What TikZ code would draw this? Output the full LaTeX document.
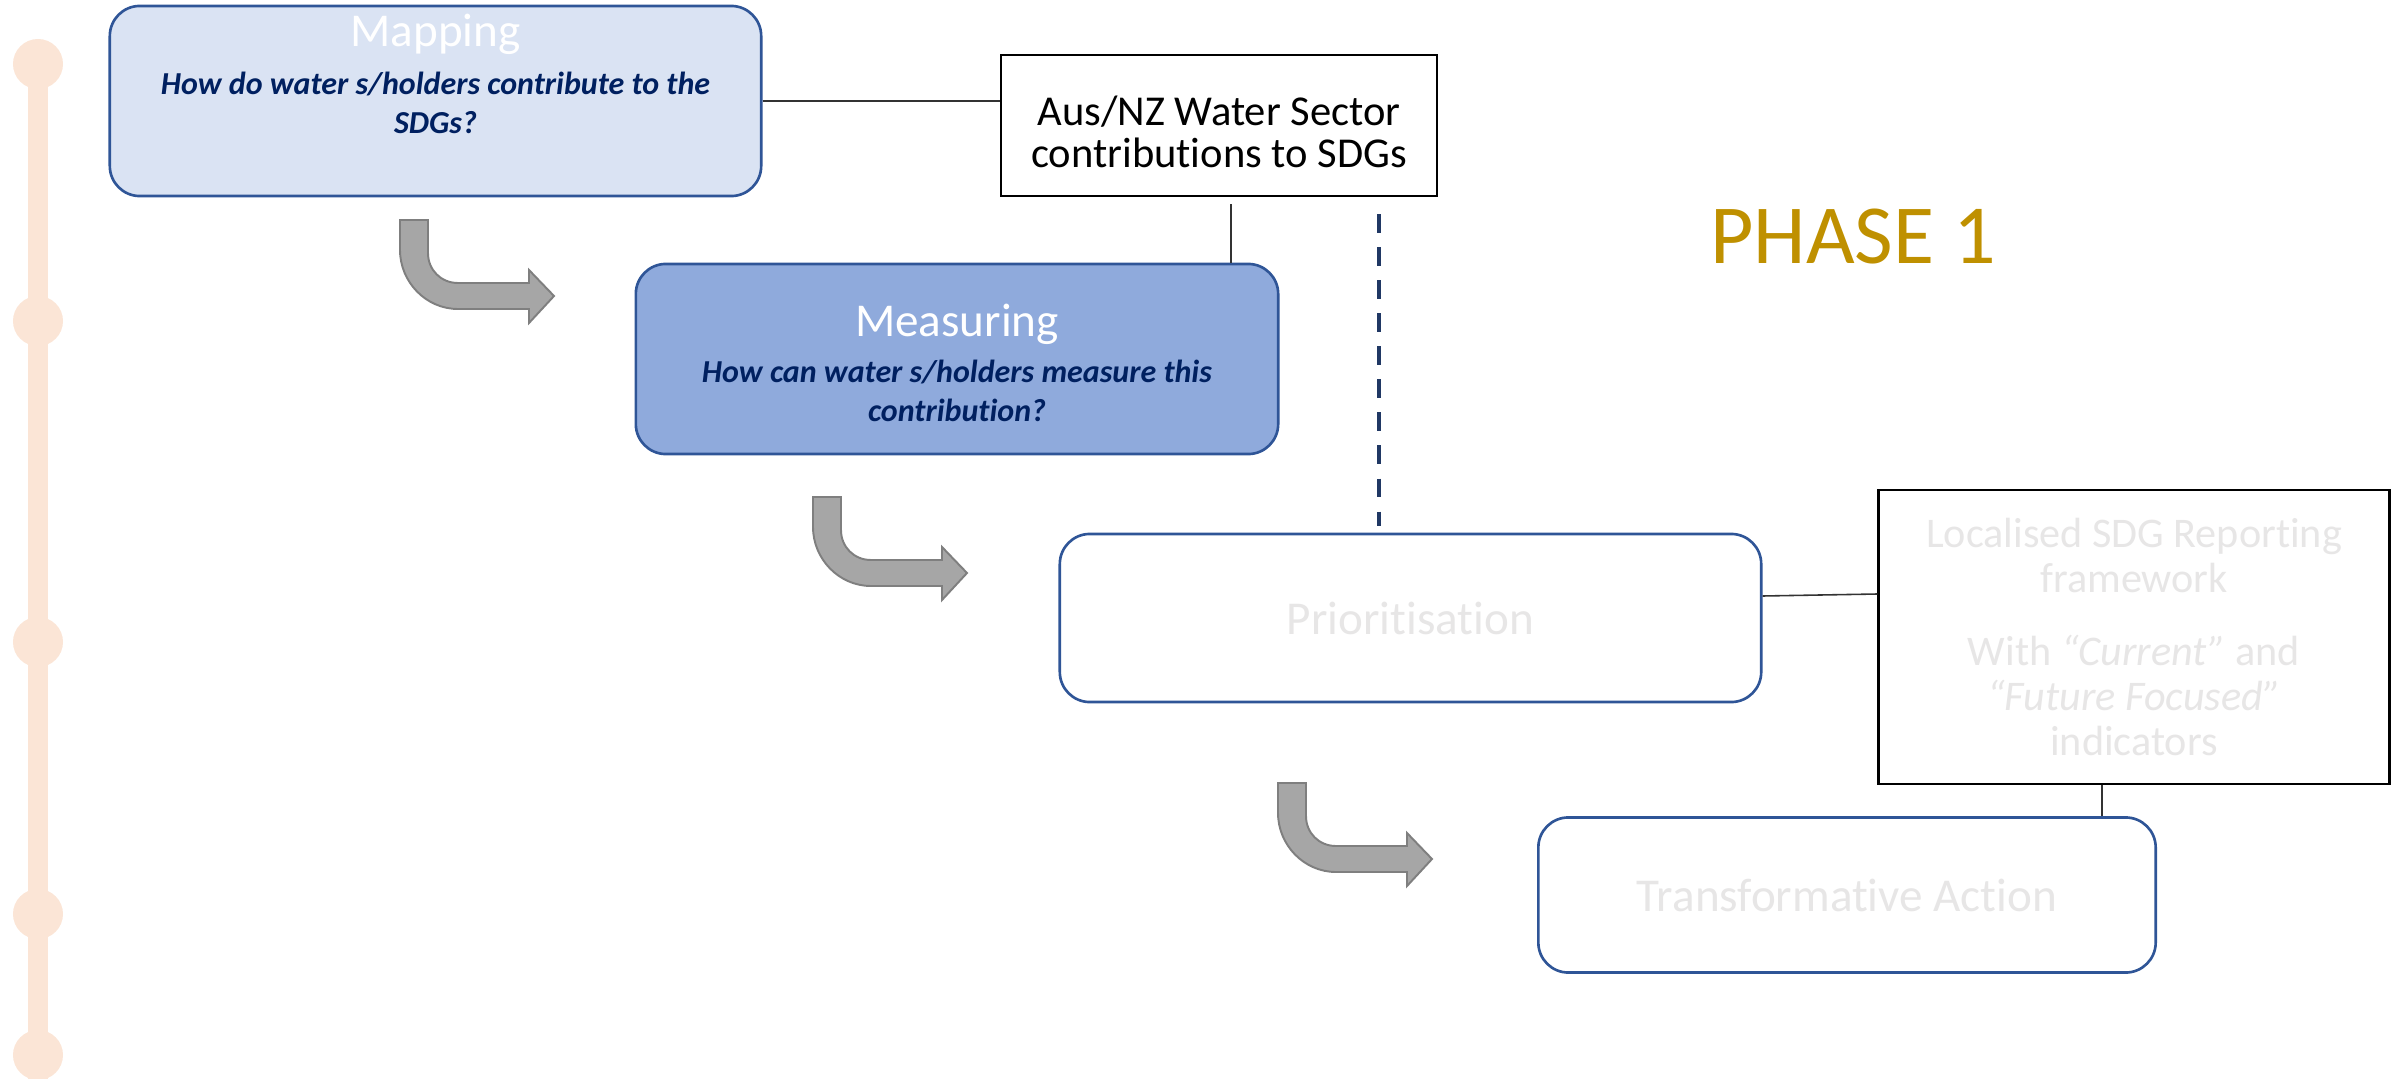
\documentclass[tikz,border=0pt]{standalone}
\usepackage{fontspec}
\setmainfont[Ligatures={TeX,NoCommon}]{Carlito}
\usepackage{tikz}
\usetikzlibrary{calc}
\definecolor{mapFill}  {RGB}{218,227,243}
\definecolor{measFill} {RGB}{143,170,220}
\definecolor{boxBlue}  {RGB}{ 47, 85,151}
\definecolor{navyTxt}  {RGB}{  0, 32, 96}
\definecolor{fadeTxt}  {RGB}{231,230,230}
\definecolor{phaseGold}{RGB}{191,144,  0}
\definecolor{peach}    {RGB}{251,229,214}
\definecolor{arrowGrey}{RGB}{166,166,166}
\definecolor{arrowEdge}{RGB}{127,127,127}
\definecolor{dashNavy} {RGB}{ 32, 56,100}

\begin{document}
\begin{tikzpicture}[x=0.01cm,y=-0.01cm,
          stagebox/.style={draw=boxBlue,line width=0.75pt,rounded corners=0.3cm,
                           inner sep=0pt},
          outbox/.style={draw=black,fill=white,line width=0.6pt,inner sep=0pt,
                         align=center},
          headtxt/.style={text=white,font=\fontsize{13.4}{16}\selectfont},
          asktxt/.style={text=navyTxt,align=center,
                         font=\fontsize{9.1}{10.9}\selectfont\bfseries\itshape},
          fadetxt/.style={text=fadeTxt,font=\fontsize{13.4}{16}\selectfont},
          link/.style={black!80,line width=0.45pt},
          dot/.style={circle,fill=peach,minimum size=0.5cm,inner sep=0pt},
          bendarrow/.pic={\draw[fill=arrowGrey,draw=arrowEdge,line width=0.55pt]
            (0,0)--(28,0)--(28,33) .. controls (28,50) and (41,63) .. (58,63)
            --(129,63)--(129,50)--(154,76)--(129,103)--(129,89)--(58,89)
            .. controls (26,89) and (0,62) .. (0,30)--cycle;},
        ]
        \useasboundingbox (0,0) rectangle (2397,1079);

        % timeline
        \foreach \y [count=\i] in {64,321,642,914,1055}
          \node[dot](d\i) at (38,\y){};
        \coordinate (base) at (38,1079);
        \draw[peach,line width=5.7pt](d1.center)--(base);

        % stages
        \node[stagebox,fill=mapFill,minimum width=6.51cm,minimum height=1.9cm]
          (map) at (435.5,101){};
        \node[headtxt] (mapT) at (435.5,34){Mapping};
        \node[asktxt]  (mapQ) at (435.5,103)
          {How do water s/holders contribute to the\\SDGs?};

        \node[stagebox,fill=measFill,minimum width=6.42cm,minimum height=1.9cm]
          (meas) at (957,359){};
        \node[headtxt] (measT) at (957,324){Measuring};
        \node[asktxt]  (measQ) at (957,391)
          {How can water s/holders measure this\\contribution?};

        \node[stagebox,fill=white,minimum width=7.01cm,minimum height=1.68cm,fadetxt]
          (prio) at (1410.5,618){Prioritisation};
        \node[stagebox,fill=white,minimum width=6.17cm,minimum height=1.55cm,fadetxt]
          (trans) at (1847,895){Transformative Action};

        % outputs
        \node[outbox,minimum width=4.36cm,minimum height=1.41cm]
          (aus) at (1219,125.5){};
        \node[align=center,font=\fontsize{12.1}{11.8}\selectfont]
          (ausT) at (1219,132){Aus/NZ Water Sector\\contributions to SDGs};
        \node[outbox,minimum width=5.1cm,minimum height=2.94cm,line width=0.8pt,
              text=fadeTxt,font=\fontsize{12}{12.9}\selectfont]
          (loc) at (2134,637){Localised SDG Reporting\\framework\\[7.7pt]
            With \textit{“Current”} and\\\textit{“Future Focused”}\\indicators};

        \node[text=phaseGold,font=\fontsize{23.9}{28}\selectfont] (phase) at (1853,237){PHASE 1};

        % links
        \draw[link](map.east)--(map.east -| aus.west);
        \draw[link]($(aus.south)+(12,7)$) coordinate (tap1)--(tap1 |- meas.north);
        \draw[dashNavy,line width=1.4pt,dash pattern=on 5.3pt off 4.1pt,shorten >=2pt]
          ($(aus.south)+(160,17)$) coordinate (drop)--(drop |- prio.north);
        \draw[link]($(prio.east)+(0,-22)$)--($(loc.west)+(0,-43)$);
        \draw[link]($(loc.south)+(-32,0)$) coordinate (tap2)--(tap2 |- trans.north);

        % bent arrows
        \pic at (400,220){bendarrow};
        \pic at (813,497){bendarrow};
        \pic at (1278,783){bendarrow};
      \end{tikzpicture}
\end{document}
